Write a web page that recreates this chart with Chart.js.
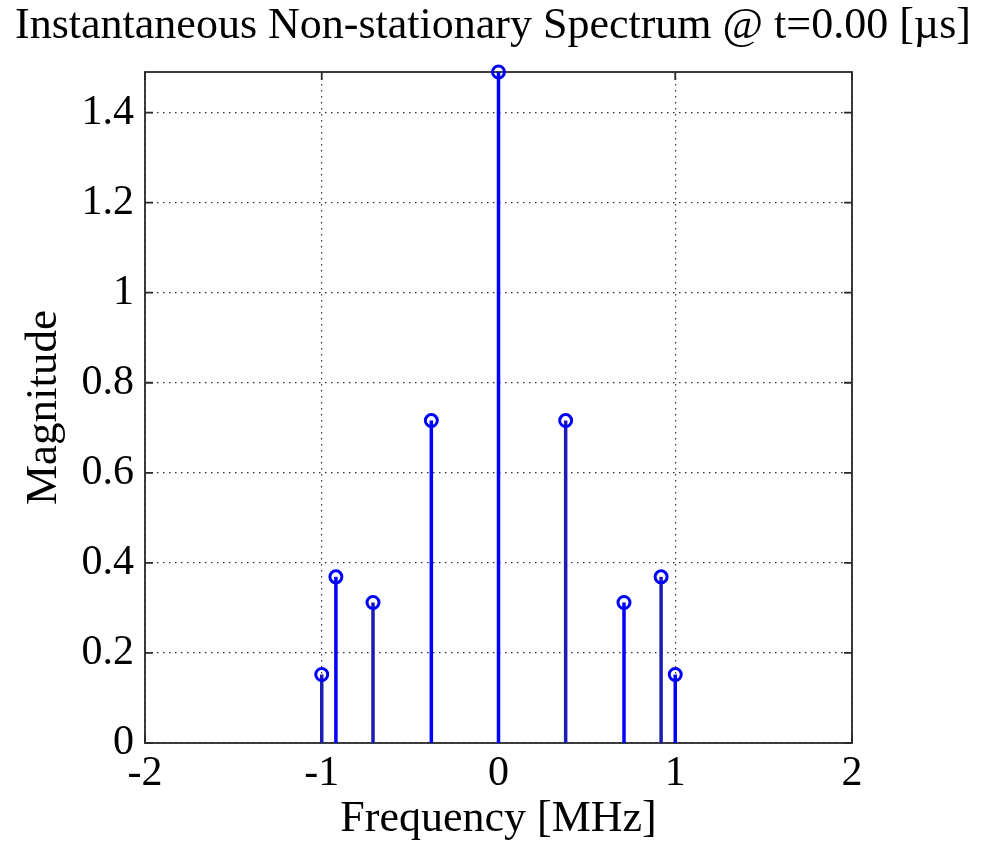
<!DOCTYPE html>
<html>
<head>
<meta charset="utf-8">
<script src="https://cdn.jsdelivr.net/npm/chart.js@4/dist/chart.umd.min.js"></script>
<style>
  html, body { margin: 0; padding: 0; background: #ffffff; }
  #wrap { width: 986px; height: 848px; position: relative; }
</style>
</head>
<body>
<div id="wrap"><canvas id="c" width="986" height="848"></canvas></div>
<script>
// ---- data ----
const frequencies = [-1.0, -0.92, -0.71, -0.38, 0.0, 0.38, 0.71, 0.92, 1.0];
const magnitudes  = [0.152, 0.369, 0.312, 0.716, 1.49, 0.716, 0.312, 0.369, 0.152];
const xTicks = [-2, -1, 0, 1, 2];
const yTicks = [0, 0.2, 0.4, 0.6, 0.8, 1.0, 1.2, 1.4];
const titleText = 'Instantaneous Non-stationary Spectrum @ t=0.00 [\u00b5s]';
const xLabel = 'Frequency [MHz]';
const yLabel = 'Magnitude';

// ---- styles ----
const stemColors = ['#1c1cb4', '#0000ff', '#1c1cb4', '#0000ff', '#0000ff', '#1c1cb4', '#0000ff', '#1c1cb4', '#0000ff'];
const serif = "'Liberation Serif', 'Times New Roman', serif";

const datasets = frequencies.map((f, i) => ({
  type: 'line',
  data: [{x: f, y: 0}, {x: f, y: magnitudes[i]}],
  borderColor: stemColors[i],
  borderWidth: 3.5,
  pointRadius: 0,
  clip: false,
  order: 2
}));
datasets.push({
  type: 'scatter',
  data: frequencies.map((f, i) => ({x: f, y: magnitudes[i]})),
  borderColor: '#0000ff',
  backgroundColor: 'rgba(0,0,0,0)',
  borderWidth: 3,
  pointRadius: 6,
  pointStyle: 'circle',
  clip: false,
  order: 1
});

const boxPlugin = {
  id: 'box',
  beforeDatasetsDraw(chart) {
    const {ctx, chartArea: a, scales} = chart;
    const tl = 8;
    ctx.save();
    ctx.strokeStyle = '#2a2a2a';
    ctx.lineWidth = 1.8;
    ctx.strokeRect(a.left, a.top, a.right - a.left, a.bottom - a.top);
    ctx.beginPath();
    xTicks.forEach(v => {
      const x = scales.x.getPixelForValue(v);
      ctx.moveTo(x, a.bottom); ctx.lineTo(x, a.bottom - tl);
      ctx.moveTo(x, a.top); ctx.lineTo(x, a.top + tl);
    });
    yTicks.forEach(v => {
      const y = scales.y.getPixelForValue(v);
      ctx.moveTo(a.left, y); ctx.lineTo(a.left + tl, y);
      ctx.moveTo(a.right, y); ctx.lineTo(a.right - tl, y);
    });
    ctx.stroke();
    ctx.restore();
  }
};

new Chart(document.getElementById('c'), {
  type: 'scatter',
  data: { datasets },
  options: {
    responsive: false,
    animation: false,
    events: [],
    layout: { padding: 0 },
    plugins: {
      legend: { display: false },
      tooltip: { enabled: false },
      title: {
        display: true,
        text: titleText,
        color: '#000',
        font: { family: serif, size: 44, weight: 'normal', lineHeight: 1 },
        padding: { top: 4, bottom: 24 }
      }
    },
    scales: {
      x: {
        type: 'linear',
        min: -2, max: 2,
        afterBuildTicks: ax => { ax.ticks = xTicks.map(v => ({value: v})); },
        afterFit: s => { s.height = 105; },
        ticks: {
          color: '#000',
          padding: 6,
          maxRotation: 0,
          font: { family: serif, size: 42 },
          callback: v => String(v)
        },
        grid: { color: '#333', lineWidth: 1.2, drawTicks: false },
        border: { display: false, dash: [1.5, 4.5] },
        title: {
          display: true,
          text: xLabel,
          color: '#000',
          font: { family: serif, size: 44, lineHeight: 1.2 },
          padding: { top: 0, bottom: 2 }
        }
      },
      y: {
        type: 'linear',
        position: 'left',
        min: 0, max: 1.49,
        afterBuildTicks: ax => { ax.ticks = yTicks.map(v => ({value: v})); },
        afterFit: s => { s.width = 145; },
        ticks: {
          color: '#000',
          padding: 11,
          font: { family: serif, size: 42 },
          callback: v => (Math.round(v * 10) / 10).toString()
        },
        grid: { color: '#333', lineWidth: 1.2, drawTicks: false },
        border: { display: false, dash: [1.5, 4.5] },
        title: {
          display: true,
          text: yLabel,
          color: '#000',
          font: { family: serif, size: 45, lineHeight: 1.2 },
          padding: { top: 17, bottom: 0 }
        }
      },
      yRight: {
        type: 'linear',
        position: 'right',
        min: 0, max: 1.49,
        afterFit: s => { s.width = 134; },
        ticks: { display: false },
        grid: { display: false, drawTicks: false },
        border: { display: false }
      }
    }
  },
  plugins: [boxPlugin]
});
</script>
</body>
</html>
